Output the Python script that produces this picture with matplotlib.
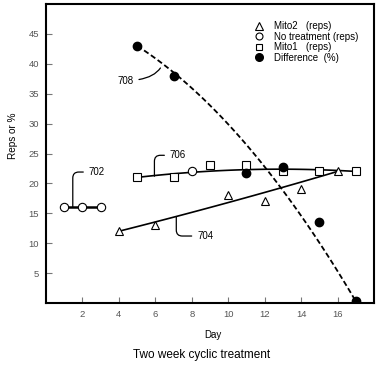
import matplotlib
matplotlib.use("Agg")
import matplotlib.pyplot as plt
from matplotlib.lines import Line2D
import numpy as np

plt.rcParams['font.family'] = ['Liberation Sans', 'DejaVu Sans']

# Data
mito2_day = [4, 6, 10, 12, 14, 16]
mito2_reps = [12, 13, 18, 17, 19, 22]

no_treat_day = [1, 2, 3, 8]
no_treat_reps = [16, 16, 16, 22]

mito1_day = [5, 7, 9, 11, 13, 15, 17]
mito1_reps = [21, 21, 23, 23, 22, 22, 22]

diff_day = [5, 7, 11, 13, 15, 17]
diff_pct = [43, 38, 21.7, 22.7, 13.5, 0.3]

# Trend curves (knots)
mito2_trend_day = [4, 10, 16]
mito2_trend_val = [12, 16.8, 22]
mito1_trend_day = [5, 11, 17]
mito1_trend_val = [21, 22.3, 22]
diff_trend_day = [5, 12.2, 17]
diff_trend_val = [43, 22, 0.3]

x_ticks = [2, 4, 6, 8, 10, 12, 14, 16]
y_ticks = [5, 10, 15, 20, 25, 30, 35, 40, 45]


def trend(days, vals):
    c = np.polyfit(days, vals, 2)
    xs = np.linspace(days[0], days[-1], 100)
    return xs, np.polyval(c, xs)


fig = plt.figure(figsize=(3.78, 3.66), dpi=100)
ax = fig.add_axes([46 / 378, 1 - 303 / 366, 328 / 378, 299 / 366])

# trend lines
xs, ys = trend(mito2_trend_day, mito2_trend_val)
ax.plot(xs, ys, color='black', lw=1.2, zorder=2)
xs, ys = trend(mito1_trend_day, mito1_trend_val)
ax.plot(xs, ys, color='black', lw=1.2, zorder=2)
xs, ys = trend(diff_trend_day, diff_trend_val)
ax.plot(xs, ys, color='black', lw=1.3, ls=(0, (3, 1.6)), zorder=2)
ax.plot(no_treat_day[:3], no_treat_reps[:3], color='black', lw=1.8, zorder=2)

# markers
ax.plot(mito2_day, mito2_reps, ls='none', marker='^', ms=5.5, mfc='white',
        mec='black', mew=0.8, zorder=3)
ax.plot(no_treat_day, no_treat_reps, ls='none', marker='o', ms=6, mfc='white',
        mec='black', mew=0.8, zorder=3)
ax.plot(mito1_day, mito1_reps, ls='none', marker='s', ms=5.3, mfc='white',
        mec='black', mew=0.8, zorder=3)
ax.plot(diff_day, diff_pct, ls='none', marker='o', ms=6, mfc='black',
        mec='black', zorder=4)

# reference numeral leaders
lead = dict(arrowstyle='-', color='black', lw=0.9, shrinkA=2, shrinkB=0)
ax.annotate('702', xy=(1.47, 16), xytext=(2.35, 21.9), fontsize=7, va='center',
            arrowprops=dict(connectionstyle='angle,angleA=0,angleB=90,rad=6', **lead))
ax.annotate('706', xy=(5.95, 21.2), xytext=(6.8, 24.7), fontsize=7, va='center',
            arrowprops=dict(connectionstyle='angle,angleA=0,angleB=90,rad=6', **lead))
ax.annotate('704', xy=(7.15, 14.4), xytext=(8.3, 11.2), fontsize=7, va='center',
            arrowprops=dict(connectionstyle='angle,angleA=0,angleB=90,rad=6', **lead))
ax.annotate('708', xy=(6.28, 39.3), xytext=(4.8, 37.2), fontsize=7, va='center',
            ha='right',
            arrowprops=dict(connectionstyle='angle3,angleA=0,angleB=55', **lead))

ax.set_xlim(0, 18)
ax.set_ylim(0, 50)
ax.set_xticks(x_ticks)
ax.set_yticks(y_ticks)
ax.tick_params(direction='in', length=4, width=0.8, color='#777777',
               labelsize=6.8, labelcolor='#555555')
ax.tick_params(axis='y', pad=5)
ax.tick_params(axis='x', pad=5)
for s in ax.spines.values():
    s.set_linewidth(1.5)

ax.set_xlabel('Day', fontsize=7)
ax.xaxis.set_label_coords(0.509, -0.09)
ax.set_ylabel('Reps or %', fontsize=7.2)
ax.yaxis.set_label_coords(-0.085, 0.56)

handles = [
    Line2D([], [], ls='none', marker='^', ms=5.2, mfc='white', mec='black', mew=0.8),
    Line2D([], [], ls='none', marker='o', ms=5, mfc='white', mec='black', mew=0.8),
    Line2D([], [], ls='none', marker='s', ms=4.5, mfc='white', mec='black', mew=0.8),
    Line2D([], [], ls='none', marker='o', ms=5.5, mfc='black', mec='black'),
]
labels = ['Mito2   (reps)', 'No treatment (reps)', 'Mito1   (reps)', 'Difference  (%)']
ax.legend(handles, labels, loc='upper left', bbox_to_anchor=(0.634, 0.942),
          frameon=False, fontsize=7, handlelength=1, handletextpad=1.1,
          labelspacing=0.05, borderpad=0, borderaxespad=0)

fig.text(202 / 378, 1 - 355 / 366, 'Two week cyclic treatment', fontsize=8.5,
         ha='center', va='center')

fig.savefig('out.png', dpi=100)
